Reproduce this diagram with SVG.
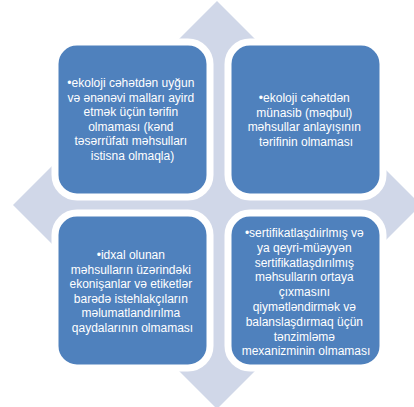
<svg xmlns="http://www.w3.org/2000/svg" width="414" height="407" viewBox="0 0 414 407">
<style>
.bg{fill:#D0D7E8}
.box{fill:#4F81BD;stroke:#FFFFFF;stroke-width:7}
.t{font-family:"Liberation Sans",Arial,sans-serif;font-size:12px;fill:#FFFFFF;text-anchor:middle}
</style>
<rect width="414" height="407" fill="#FFFFFF"/>
<polygon class="bg" points="217,1 421,205 217,409 13,205"/>
<g id="node-tl">
<rect class="box" x="55" y="42" width="155" height="155" rx="22"/>
<text class="t" x="132.5" y="87">
<tspan x="132.5" y="87">•ekoloji cəhətdən uyğun</tspan>
<tspan x="132.5" dy="14.5">və ənənəvi malları ayird</tspan>
<tspan x="132.5" dy="14.5">etmək üçün tərifin</tspan>
<tspan x="132.5" dy="14.5">olmaması (kənd</tspan>
<tspan x="132.5" dy="14.5">təsərrüfatı məhsulları</tspan>
<tspan x="132.5" dy="14.5">istisna olmaqla)</tspan>
</text>
</g>
<g id="node-tr">
<rect class="box" x="228" y="42" width="155" height="155" rx="22"/>
<text class="t">
<tspan x="306" y="102">•ekoloji cəhətdən</tspan>
<tspan x="306" dy="14.5">münasib (məqbul)</tspan>
<tspan x="306" dy="14.5">məhsullar anlayışının</tspan>
<tspan x="306" dy="14.5">tərifinin olmaması</tspan>
</text>
</g>
<g id="node-bl">
<rect class="box" x="55" y="213" width="155" height="155" rx="22"/>
<text class="t">
<tspan x="132.5" y="259">•idxal olunan</tspan>
<tspan x="132.5" dy="14.5">məhsulların üzərindəki</tspan>
<tspan x="132.5" dy="14.5">ekonişanlar və etiketlər</tspan>
<tspan x="132.5" dy="14.5">barədə istehlakçıların</tspan>
<tspan x="132.5" dy="14.5">məlumatlandırılma</tspan>
<tspan x="132.5" dy="14.5">qaydalarının olmaması</tspan>
</text>
</g>
<g id="node-br">
<rect class="box" x="228" y="213" width="155" height="155" rx="22"/>
<text class="t">
<tspan x="306" y="237">•sertifikatlaşdıirlmış və</tspan>
<tspan x="306" dy="14.8">ya qeyri-müəyyən</tspan>
<tspan x="306" dy="14.8">sertifikatlaşdırılmış</tspan>
<tspan x="306" dy="14.8">məhsulların ortaya</tspan>
<tspan x="306" dy="14.8">çıxmasını</tspan>
<tspan x="306" dy="14.8">qiymətləndirmək və</tspan>
<tspan x="306" dy="14.8">balanslaşdırmaq üçün</tspan>
<tspan x="306" dy="14.8">tənzimləmə</tspan>
<tspan x="306" dy="14.8">mexanizminin olmaması</tspan>
</text>
</g>
<g id="connectors"/>
</svg>
